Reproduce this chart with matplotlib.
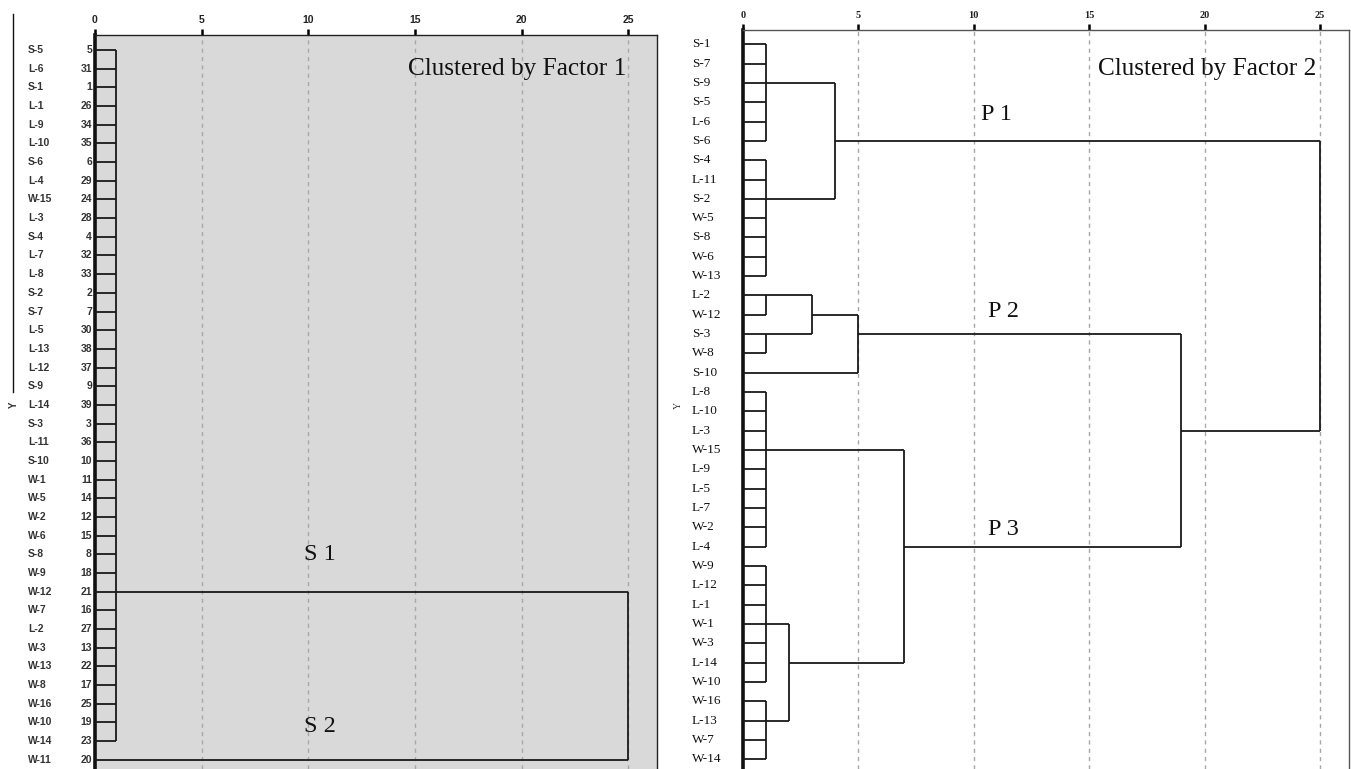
import matplotlib
matplotlib.use("Agg")
import matplotlib.pyplot as plt
from matplotlib.transforms import blended_transform_factory
from matplotlib.lines import Line2D

# ---------------- data ----------------
left_labels = ["S-5", "L-6", "S-1", "L-1", "L-9", "L-10", "S-6", "L-4", "W-15", "L-3",
               "S-4", "L-7", "L-8", "S-2", "S-7", "L-5", "L-13", "L-12", "S-9", "L-14",
               "S-3", "L-11", "S-10", "W-1", "W-5", "W-2", "W-6", "S-8", "W-9", "W-12",
               "W-7", "L-2", "W-3", "W-13", "W-8", "W-16", "W-10", "W-14", "W-11"]
left_case_numbers = [5, 31, 1, 26, 34, 35, 6, 29, 24, 28, 4, 32, 33, 2, 7, 30, 38, 37, 9, 39,
                     3, 36, 10, 11, 14, 12, 15, 8, 18, 21, 16, 27, 13, 22, 17, 25, 19, 23, 20]

right_labels = ["S-1", "S-7", "S-9", "S-5", "L-6", "S-6", "S-4", "L-11", "S-2", "W-5",
                "S-8", "W-6", "W-13", "L-2", "W-12", "S-3", "W-8", "S-10", "L-8", "L-10",
                "L-3", "W-15", "L-9", "L-5", "L-7", "W-2", "L-4", "W-9", "L-12", "L-1",
                "W-1", "W-3", "L-14", "W-10", "W-16", "L-13", "W-7", "W-14"]

# Cluster nodes: (name, children, merge distance, row where the node's link leaves)
# children are leaf indices (int) or node names (str)
left_nodes = [
    ("S1", list(range(0, 38)), 1, 29),
    ("root", ["S1", 38], 25, None),
]
right_nodes = [
    ("g1", list(range(0, 6)), 1, 2),
    ("g2", list(range(6, 13)), 1, 8),
    ("P1", ["g1", "g2"], 4, 5),
    ("g3", [13, 14], 1, 13),
    ("g4", [15, 16], 1, 15),
    ("g34", ["g3", "g4"], 3, 14),
    ("P2", ["g34", 17], 5, 15),
    ("g5", list(range(18, 27)), 1, 21),
    ("g6", list(range(27, 34)), 1, 30),
    ("g7", list(range(34, 38)), 1, 35),
    ("g67", ["g6", "g7"], 2, 32),
    ("P3", ["g5", "g67"], 7, 26),
    ("P23", ["P2", "P3"], 19, 20),
    ("root", ["P1", "P23"], 25, None),
]

x_ticks = [0, 5, 10, 15, 20, 25]
left_title = "Clustered by Factor 1"
right_title = "Clustered by Factor 2"
left_cluster_text = [("S 1", 10.55, 27.0), ("S 2", 10.55, 36.2)]
right_cluster_text = [("P 1", 11.0, 3.65), ("P 2", 11.3, 13.85), ("P 3", 11.3, 25.1)]

# ---------------- figure ----------------
W, H = 1351, 769
fig = plt.figure(figsize=(W / 100, H / 100), dpi=100)

LINE_C = "#1a1a1a"
LW = 1.3


def draw_dendro(ax, nodes):
    info = {}
    for name, children, h, row in nodes:
        rows = []
        for c in children:
            if isinstance(c, str):
                ch_h, ch_row = info[c]
            else:
                ch_h, ch_row = 0, c
            rows.append(ch_row)
            ax.plot([ch_h, h], [ch_row, ch_row], color=LINE_C, lw=LW,
                    solid_capstyle="butt", zorder=3)
        ax.plot([h, h], [min(rows), max(rows)], color=LINE_C, lw=LW,
                solid_capstyle="butt", zorder=3)
        info[name] = (h, row)


def style_axis(ax, xmax, ytop, ybot, tickfont):
    ax.set_xlim(0, xmax)
    ax.set_ylim(ybot, ytop)
    ax.xaxis.tick_top()
    ax.set_xticks(x_ticks)
    ax.set_xticklabels([str(t) for t in x_ticks], **tickfont)
    ax.tick_params(axis="x", direction="out", length=4, width=1.8, pad=3)
    ax.set_yticks([])
    ax.spines["bottom"].set_visible(False)
    ax.spines["left"].set_linewidth(2.6)
    ax.spines["left"].set_color("#111111")
    ax.spines["top"].set_linewidth(1.0)
    ax.spines["right"].set_linewidth(1.0)
    for t in x_ticks[1:]:
        ax.axvline(t, color="#a8a8a8", lw=1.0, ls=(0, (3, 3)), zorder=1)


# ---- left panel ----
lx0, lx1 = 95, 657
ltop = 34.7
ax1 = fig.add_axes([lx0 / W, 0, (lx1 - lx0) / W, 1 - ltop / H])
ax1.set_facecolor("#d9d9d9")
style_axis(ax1, (lx1 - lx0) / 21.33, (ltop - 50) / 18.68, (H - 50) / 18.68,
           dict(family="Liberation Sans", fontsize=7.5, fontweight="bold", color="#222222"))
ax1.spines["top"].set_color("#222222")
ax1.spines["right"].set_color("#222222")
draw_dendro(ax1, left_nodes)

tr1 = blended_transform_factory(fig.transFigure, ax1.transData)
for i, (lab, num) in enumerate(zip(left_labels, left_case_numbers)):
    ax1.text(28 / W, i, lab, transform=tr1, ha="left", va="center",
             fontsize=7.5, family="Liberation Sans", fontweight="bold", color="#333333")
    ax1.text(92 / W, i, str(num), transform=tr1, ha="right", va="center",
             fontsize=7.5, family="Liberation Sans", fontweight="bold", color="#333333")
ax1.text(626 / W, 1.0, left_title, transform=tr1, ha="right", va="center",
         fontsize=18.2, family="Liberation Serif", color="#111111")
for txt, x, y in left_cluster_text:
    ax1.text(x, y, txt, ha="center", va="center", fontsize=17.5,
             family="Liberation Serif", color="#111111")

# ---- right panel ----
rx0, rx1 = 742.7, 1349
rtop = 30
ax2 = fig.add_axes([rx0 / W, 0, (rx1 - rx0) / W, 1 - rtop / H])
ax2.set_facecolor("white")
style_axis(ax2, (rx1 - rx0) / 23.09, (rtop - 44.3) / 19.32, (H - 44.3) / 19.32,
           dict(family="Liberation Serif", fontsize=7.5, color="#222222", fontweight="bold"))
ax2.spines["top"].set_color("#555555")
ax2.spines["right"].set_color("#555555")
draw_dendro(ax2, right_nodes)

tr2 = blended_transform_factory(fig.transFigure, ax2.transData)
for i, lab in enumerate(right_labels):
    ax2.text(692 / W, i, lab, transform=tr2, ha="left", va="center",
             fontsize=9.5, family="Liberation Serif", color="#111111")
ax2.text(1316 / W, 1.27, right_title, transform=tr2, ha="right", va="center",
         fontsize=18.2, family="Liberation Serif", color="#111111")
for txt, x, y in right_cluster_text:
    ax2.text(x, y, txt, ha="center", va="center", fontsize=17.5,
             family="Liberation Serif", color="#111111")

# ---- axis titles "Y" ----
fig.text(14 / W, 1 - 405 / H, "Y", rotation=90, ha="center", va="center",
         fontsize=7, family="Liberation Sans", fontweight="bold", color="#333333")
fig.text(678 / W, 1 - 405 / H, "Y", rotation=90, ha="center", va="center",
         fontsize=7, family="Liberation Serif", color="#333333")
fig.add_artist(Line2D([13.5 / W, 13.5 / W], [1 - 14 / H, 1 - 392 / H],
                      transform=fig.transFigure, color="#111111", lw=1.0))

fig.savefig("out.png", dpi=100)
